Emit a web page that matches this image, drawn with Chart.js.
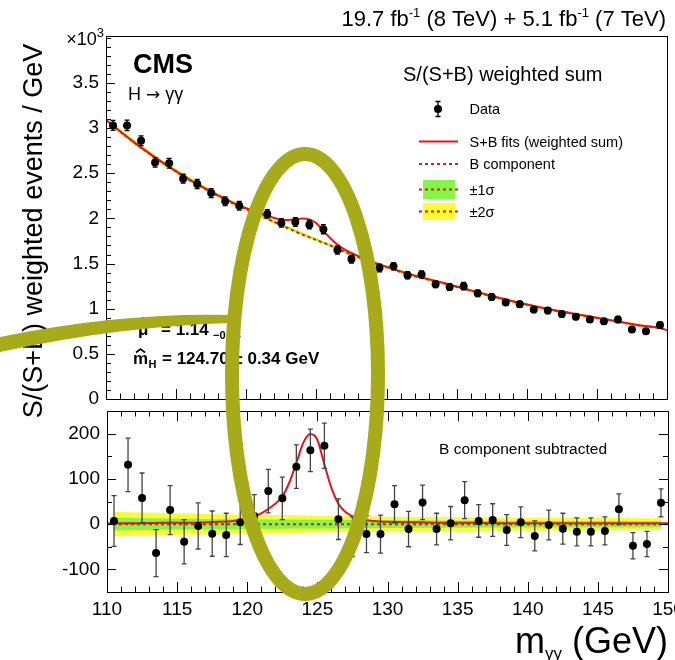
<!DOCTYPE html>
<html>
<head>
<meta charset="utf-8">
<script src="https://cdn.jsdelivr.net/npm/chart.js@4.4.1/dist/chart.umd.min.js"></script>
<style>
body { margin: 0; background: #fff; }
#wrap { position: relative; width: 675px; height: 660px; }
#wrap canvas { position: absolute; left: 0; top: 0; }
</style>
</head>
<body>
<div id="wrap">
  <canvas id="topChart" width="675" height="405"></canvas>
  <canvas id="botChart" width="675" height="660"></canvas>
</div>
<script>
// bin centres (GeV)
const massBins = [110.5, 111.5, 112.5, 113.5, 114.5, 115.5, 116.5, 117.5, 118.5, 119.5,
                  120.5, 121.5, 122.5, 123.5, 124.5, 125.5, 126.5, 127.5, 128.5, 129.5,
                  130.5, 131.5, 132.5, 133.5, 134.5, 135.5, 136.5, 137.5, 138.5, 139.5,
                  140.5, 141.5, 142.5, 143.5, 144.5, 145.5, 146.5, 147.5, 148.5, 149.5]
// S/(S+B) weighted events / GeV
const weightedEvents = [3030, 3030, 2860, 2620, 2610, 2440, 2380, 2280, 2190, 2140,
                        2080, 2050, 1950, 1960, 1930, 1880, 1650, 1550, 1520, 1450,
                        1470, 1370, 1380, 1270, 1240, 1250, 1170, 1130, 1070, 1050,
                        990, 980, 940, 910, 880, 860, 880, 770, 750, 820]
const eventErr = [56, 59, 55, 52, 54, 49, 51, 50, 48, 49,
                  47, 48, 47, 48, 47, 50, 45, 44, 41, 42,
                  41, 39, 38, 35, 37, 41, 36, 36, 34, 34,
                  33, 33, 34, 31, 31, 31, 34, 29, 28, 31]
// data minus B component
const bkgSubtracted = [7, 131, 58, -64, 31, -39, -4, -21, -24, 4,
                       18, 73, 57, 127, 163, 173, 11, -28, -22, -22,
                       44, -11, 48, -11, 2, 53, 7, 9, -13, 4,
                       -26, -2, -10, -17, -17, -15, 33, -48, -44, 47]

// fit curves
const fitMass = [110, 110.5, 112, 114, 116, 118, 119, 120, 121, 122,
                 122.5, 123, 123.5, 124, 124.5, 125, 125.5, 126, 126.5, 127,
                 128, 129, 130, 132, 134, 136, 138, 140, 142, 144,
                 146, 148, 149.5, 150]
const bkgFit = [3090, 3025, 2840, 2620, 2420, 2250, 2170, 2100, 2030, 1960,
                1925, 1890, 1855, 1820, 1790, 1760, 1730, 1700, 1665, 1630,
                1570, 1510, 1460, 1360, 1285, 1200, 1120, 1045, 980, 925,
                870, 815, 785, 760]
const sigFit = [2, 2, 2, 3, 3, 5, 7, 12, 24, 45,
                61, 92, 135, 180, 199, 186, 132, 80, 45, 27,
                12, 7, 5, 4, 3, 3, 2, 2, 2, 2,
                2, 2, 2, 2]

// uncertainty bands on B
const bandMass = [110.5, 114, 118, 122, 126, 130, 134, 138, 142, 146, 149.5]
const band1 = [14, 12.5, 11, 10, 9.5, 8.5, 8, 7.5, 7, 7, 6.5]
const band2 = [27, 24.5, 22, 20, 18, 16.5, 15.5, 14.5, 14, 13.5, 13]

const xTicks = [110, 115, 120, 125, 130, 135, 140, 145, 150]
const yTicksTop = [0, 500, 1000, 1500, 2000, 2500, 3000, 3500]
const yTicksBottom = [-100, 0, 100, 200]

const red = '#e8141b', green = '#86f448', yellow = '#fbfb38', olive = '#a7ab19'
const FAM = '"Liberation Sans", Arial, Helvetica, sans-serif'
const F = (size, bold, fam) => (bold ? 'bold ' : '') + size + 'px ' + (fam || FAM)

Chart.defaults.font.family = FAM
Chart.defaults.color = '#000'

function pinY(w) { return s => { s.width = w; s.paddingTop = 0; s.paddingBottom = 0 } }
function pinX(h) { return s => { s.height = h; s.paddingLeft = 0; s.paddingRight = 0 } }
const bkgAt = m => bkgFit[fitMass.indexOf(m)]

// ROOT style frame with inward ticks
function drawFrame(chart, cfg) {
	const {ctx, chartArea: a, scales: {x, y}} = chart
	ctx.save()
	ctx.strokeStyle = '#000'
	ctx.lineWidth = 1
	ctx.strokeRect(a.left + 0.5, a.top + 0.5, a.right - a.left, a.bottom - a.top)
	ctx.beginPath()
	for (let v = x.min; v <= x.max + 1e-6; v += cfg.xMinor) {
		let px = Math.round(x.getPixelForValue(v)) + 0.5
		let len = xTicks.includes(v) ? 10 : 5.5
		ctx.moveTo(px, a.bottom); ctx.lineTo(px, a.bottom - len)
		if (cfg.mirror) { ctx.moveTo(px, a.top); ctx.lineTo(px, a.top + len) }
	}
	for (let v = cfg.yFrom; v <= y.max + 1e-6; v += cfg.yMinor) {
		let py = Math.round(y.getPixelForValue(v)) + 0.5
		let len = cfg.yMajor.includes(v) ? 9 : 5
		ctx.moveTo(a.left, py); ctx.lineTo(a.left + len, py)
		if (cfg.mirror) { ctx.moveTo(a.right, py); ctx.lineTo(a.right - len, py) }
	}
	ctx.stroke()
	ctx.restore()
}

// text made of pieces (super/subscripts)
function drawParts(ctx, parts, x, y, align) {
	let total = 0
	parts.forEach(p => { ctx.font = F(p.s, p.b, p.f); p.w = ctx.measureText(p.t).width; total += p.w })
	let cx = align == 'right' ? x - total : x
	ctx.textAlign = 'left'
	ctx.textBaseline = 'alphabetic'
	parts.forEach(p => { ctx.font = F(p.s, p.b, p.f); ctx.fillText(p.t, cx, y + (p.dy || 0)); cx += p.w })
}

function hat(ctx, cx, y) {
	ctx.beginPath()
	ctx.moveTo(cx - 4.5, y + 3.5); ctx.lineTo(cx, y); ctx.lineTo(cx + 4.5, y + 3.5)
	ctx.lineWidth = 1.6
	ctx.stroke()
}

const errorBars = {
	id: 'errorBars',
	beforeDatasetDraw(chart, args, opts) {
		if (args.index !== 0) return
		const {ctx, scales: {x, y}} = chart
		const ds = chart.data.datasets[0]
		ctx.save()
		ctx.strokeStyle = opts.color
		ctx.lineWidth = 1.3
		ctx.beginPath()
		ds.data.forEach((p, i) => {
			let px = x.getPixelForValue(p.x)
			let y1 = y.getPixelForValue(p.y + ds.errors[i]), y2 = y.getPixelForValue(p.y - ds.errors[i])
			ctx.moveTo(px, y1); ctx.lineTo(px, y2)
			ctx.moveTo(px - 2.5, y1); ctx.lineTo(px + 2.5, y1)
			ctx.moveTo(px - 2.5, y2); ctx.lineTo(px + 2.5, y2)
		})
		ctx.stroke()
		ctx.restore()
	}
}

const topDecor = {
	id: 'topDecor',
	afterDraw(chart) {
		const ctx = chart.ctx
		drawFrame(chart, {xMinor: 1, yMajor: yTicksTop, yMinor: 100, yFrom: 0, mirror: false})
		ctx.save()
		ctx.fillStyle = '#000'
		ctx.strokeStyle = '#000'
		drawParts(ctx, [{t: '\u00d710', s: 18}, {t: '3', s: 13, dy: -8}], 104, 45, 'right')
		drawParts(ctx, [{t: '19.7 fb', s: 22}, {t: '-1', s: 13, dy: -9}, {t: ' (8 TeV) + 5.1 fb', s: 22},
		                {t: '-1', s: 13, dy: -9}, {t: ' (7 TeV)', s: 22}], 666, 26, 'right')
		drawParts(ctx, [{t: 'CMS', s: 27, b: true}], 133, 73)
		drawParts(ctx, [{t: 'H ', s: 18}, {t: '\u2192', s: 17, f: '"DejaVu Sans"'}, {t: ' \u03b3\u03b3', s: 18}], 128, 100)

		// legend
		drawParts(ctx, [{t: 'S/(S+B) weighted sum', s: 20}], 403, 81)
		ctx.beginPath(); ctx.arc(438, 109, 4, 0, Math.PI * 2); ctx.fill()
		ctx.lineWidth = 1.3
		ctx.beginPath()
		ctx.moveTo(438, 101.5); ctx.lineTo(438, 116.5)
		ctx.moveTo(435.5, 101.5); ctx.lineTo(440.5, 101.5)
		ctx.moveTo(435.5, 116.5); ctx.lineTo(440.5, 116.5)
		ctx.stroke()
		ctx.fillStyle = green; ctx.fillRect(423, 180, 32, 19)
		ctx.fillStyle = yellow; ctx.fillRect(423, 203, 32, 17)
		ctx.strokeStyle = red; ctx.lineWidth = 2
		ctx.beginPath(); ctx.moveTo(419, 141.5); ctx.lineTo(458, 141.5); ctx.stroke()
		ctx.setLineDash([3, 3])
		;[164, 189.5, 211.5].forEach(yy => { ctx.beginPath(); ctx.moveTo(419, yy); ctx.lineTo(458, yy); ctx.stroke() })
		ctx.setLineDash([])
		ctx.fillStyle = '#000'
		drawParts(ctx, [{t: 'Data', s: 14.5}], 469.5, 114)
		drawParts(ctx, [{t: 'S+B fits (weighted sum)', s: 14.5}], 469.5, 146.5)
		drawParts(ctx, [{t: 'B component', s: 14.5}], 469.5, 169)
		drawParts(ctx, [{t: '\u00b11\u03c3', s: 14.5}], 469.5, 195)
		drawParts(ctx, [{t: '\u00b12\u03c3', s: 14.5}], 469.5, 216.5)

		// fit results
		ctx.strokeStyle = '#000'
		drawParts(ctx, [{t: '\u03bc', s: 17, b: true}], 138, 335)
		hat(ctx, 143, 318)
		drawParts(ctx, [{t: '= 1.14', s: 17, b: true}], 161, 335)
		drawParts(ctx, [{t: '+0.26', s: 11, b: true}], 213, 323)
		drawParts(ctx, [{t: '\u22120.23', s: 11, b: true}], 213, 339)
		drawParts(ctx, [{t: 'm', s: 17, b: true}], 133, 364)
		hat(ctx, 140.5, 349)
		drawParts(ctx, [{t: 'H', s: 11, b: true}], 148.5, 368)
		drawParts(ctx, [{t: '= 124.70 \u00b1 0.34 GeV', s: 17, b: true}], 162, 364)
		ctx.restore()
	}
}

const botDecor = {
	id: 'botDecor',
	afterDraw(chart) {
		const ctx = chart.ctx
		drawFrame(chart, {xMinor: 1, yMajor: yTicksBottom, yMinor: 50, yFrom: -150, mirror: true})
		ctx.save()
		ctx.fillStyle = '#000'
		drawParts(ctx, [{t: 'B component subtracted', s: 15.5}], 439, 453.5)
		drawParts(ctx, [{t: 'm', s: 36}, {t: '\u03b3\u03b3', s: 17, dy: 6}, {t: ' (GeV)', s: 36}], 668, 653, 'right')
		// y axis title
		ctx.save()
		ctx.translate(41.5, 231)
		ctx.rotate(-Math.PI / 2)
		ctx.font = F(27)
		ctx.textAlign = 'center'
		ctx.fillText('S/(S+B) weighted events / GeV', 0, 0)
		ctx.restore()

		// hand-drawn highlight on top of the figure
		ctx.strokeStyle = olive
		ctx.fillStyle = olive
		ctx.lineWidth = 14
		ctx.beginPath(); ctx.ellipse(305, 374, 73, 220, 0, 0, Math.PI * 2); ctx.stroke()
		ctx.beginPath()
		ctx.moveTo(0, 337); ctx.quadraticCurveTo(120, 312, 232, 315)
		ctx.lineTo(232, 323); ctx.quadraticCurveTo(120, 326, 0, 352)
		ctx.closePath(); ctx.fill()
		ctx.restore()
	}
}

function lineSet(pts, extra) {
	return Object.assign({data: pts, pointRadius: 0, borderWidth: 0, fill: false}, extra)
}

// upper panel
new Chart(document.getElementById('topChart'), {
	type: 'line',
	data: {
		datasets: [
			{data: massBins.map((m, i) => ({x: m, y: weightedEvents[i]})), errors: eventErr, showLine: false,
			 pointRadius: 4, pointBackgroundColor: '#000', pointBorderWidth: 0},
			lineSet(fitMass.map((m, i) => ({x: m, y: bkgFit[i] + sigFit[i]})), {borderColor: red, borderWidth: 2, cubicInterpolationMode: 'monotone'}),
			lineSet(fitMass.map((m, i) => ({x: m, y: bkgFit[i]})), {borderColor: red, borderWidth: 2, borderDash: [3, 3], cubicInterpolationMode: 'monotone'}),
			lineSet(bandMass.map((m, i) => ({x: m, y: bkgAt(m) + band1[i]})), {fill: '+1', backgroundColor: green}),
			lineSet(bandMass.map((m, i) => ({x: m, y: bkgAt(m) - band1[i]}))),
			lineSet(bandMass.map((m, i) => ({x: m, y: bkgAt(m) + band2[i]})), {fill: '+1', backgroundColor: yellow}),
			lineSet(bandMass.map((m, i) => ({x: m, y: bkgAt(m) - band2[i]})))
		]
	},
	options: {
		responsive: false, animation: false, devicePixelRatio: 1, events: [],
		layout: {padding: {left: 0, right: 8, top: 36, bottom: 0}},
		plugins: {legend: {display: false}, tooltip: {enabled: false}, errorBars: {color: '#000'}},
		scales: {
			x: {type: 'linear', min: 110, max: 150, grid: {display: false, drawTicks: false}, border: {display: false},
			    ticks: {display: false}, afterFit: pinX(6)},
			y: {min: 0, max: 4020, grid: {display: false, drawTicks: false}, border: {display: false},
			    afterBuildTicks: s => { s.ticks = yTicksTop.map(v => ({value: v})) },
			    ticks: {padding: 7, font: {size: 19}, callback: v => String(v / 1000)}, afterFit: pinY(106)}
		}
	},
	plugins: [errorBars, topDecor]
})

// lower panel
new Chart(document.getElementById('botChart'), {
	type: 'line',
	data: {
		datasets: [
			{data: massBins.map((m, i) => ({x: m, y: bkgSubtracted[i]})), errors: eventErr, showLine: false,
			 pointRadius: 4, pointBackgroundColor: '#000', pointBorderWidth: 0},
			lineSet(fitMass.map((m, i) => ({x: m, y: sigFit[i]})), {borderColor: red, borderWidth: 2, cubicInterpolationMode: 'monotone'}),
			lineSet(fitMass.map((m, i) => ({x: m, y: bkgFit[i] - bkgFit[i]})), {borderColor: red, borderWidth: 2, borderDash: [3, 3]}),
			lineSet(bandMass.map((m, i) => ({x: m, y: band1[i]})), {fill: '+1', backgroundColor: green}),
			lineSet(bandMass.map((m, i) => ({x: m, y: -band1[i]}))),
			lineSet(bandMass.map((m, i) => ({x: m, y: band2[i]})), {fill: '+1', backgroundColor: yellow}),
			lineSet(bandMass.map((m, i) => ({x: m, y: -band2[i]})))
		]
	},
	options: {
		responsive: false, animation: false, devicePixelRatio: 1, events: [],
		layout: {padding: {left: 0, right: 7, top: 411, bottom: 0}},
		plugins: {legend: {display: false}, tooltip: {enabled: false}, errorBars: {color: '#444'}},
		scales: {
			x: {type: 'linear', min: 110, max: 150, grid: {display: false, drawTicks: false}, border: {display: false},
			    afterBuildTicks: s => { s.ticks = xTicks.map(v => ({value: v})) },
			    ticks: {padding: 6, font: {size: 19}, maxRotation: 0, autoSkip: false}, afterFit: pinX(68)},
			y: {min: -150, max: 250, grid: {display: false, drawTicks: false}, border: {display: false},
			    afterBuildTicks: s => { s.ticks = yTicksBottom.map(v => ({value: v})) },
			    ticks: {padding: 7, font: {size: 19}}, afterFit: pinY(107)}
		}
	},
	plugins: [errorBars, botDecor]
})
</script>
</body>
</html>
